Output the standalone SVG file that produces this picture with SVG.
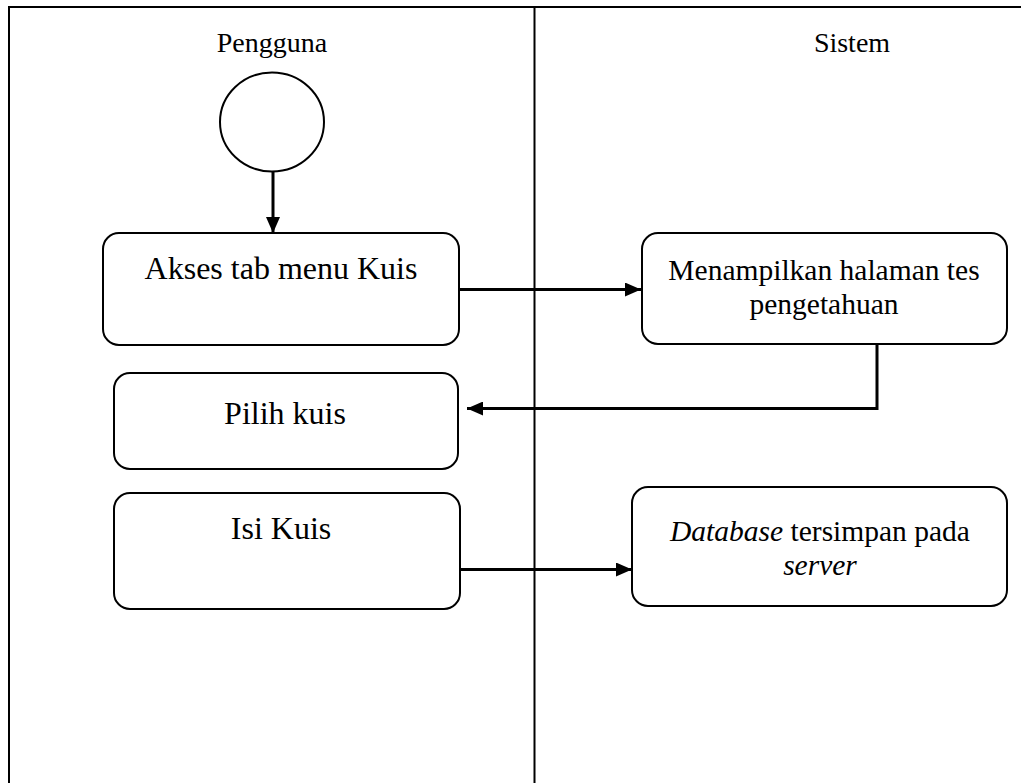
<svg xmlns="http://www.w3.org/2000/svg" width="1021" height="783" viewBox="0 0 1021 783">
  <style>
    .lane { stroke: #000; stroke-width: 2; fill: none; }
    .node { fill: #fff; stroke: #000; stroke-width: 2; }
    .flow { stroke: #000; stroke-width: 3; fill: none; }
    .lbl { font-family: 'Liberation Serif', 'Times New Roman', serif; fill: #000; text-anchor: middle; }
    .title { font-size: 28px; }
    .big { font-size: 32px; }
    .small { font-size: 29.5px; }
  </style>
  <defs>
    <marker id="arrow" viewBox="0 0 16 14" refX="16" refY="7" markerWidth="16" markerHeight="14" markerUnits="userSpaceOnUse" orient="auto">
      <path d="M0,0 L16,7 L0,14 Z" fill="#000"/>
    </marker>
  </defs>
  <rect width="1021" height="783" fill="#fff"/>

  <!-- swimlanes -->
  <g id="lanes">
    <path class="lane" d="M9,783 V7 H1021"/>
    <path class="lane" d="M534.5,7 V783"/>
    <text class="lbl title" x="272" y="52">Pengguna</text>
    <text class="lbl title" x="852" y="52">Sistem</text>
  </g>

  <!-- connectors -->
  <g id="connectors">
    <path class="flow" d="M273,171 V233" marker-end="url(#arrow)"/>
    <path class="flow" d="M459,289.5 H641" marker-end="url(#arrow)"/>
    <path class="flow" d="M877,344 V408.5 H467" marker-end="url(#arrow)"/>
    <path class="flow" d="M460,569.5 H632" marker-end="url(#arrow)"/>
  </g>

  <g id="start">
    <ellipse class="node" cx="272" cy="122" rx="52" ry="49.5"/>
  </g>

  <g id="akses">
    <rect class="node" x="103" y="233" width="356" height="112" rx="16"/>
    <text class="lbl big" x="281" y="279">Akses tab menu Kuis</text>
  </g>

  <g id="menampilkan">
    <rect class="node" x="642" y="233" width="365" height="111" rx="16"/>
    <text class="lbl small" x="824" y="280">Menampilkan halaman tes</text>
    <text class="lbl small" x="824" y="314">pengetahuan</text>
  </g>

  <g id="pilih">
    <rect class="node" x="114" y="373" width="344" height="96" rx="16"/>
    <text class="lbl big" x="285" y="424">Pilih kuis</text>
  </g>

  <g id="isi">
    <rect class="node" x="114" y="493" width="346" height="116" rx="16"/>
    <text class="lbl big" x="281" y="539">Isi Kuis</text>
  </g>

  <g id="database">
    <rect class="node" x="632" y="487" width="375" height="119" rx="16"/>
    <text class="lbl small" x="820" y="541"><tspan font-style="italic">Database</tspan> tersimpan pada</text>
    <text class="lbl small" x="820" y="575" font-style="italic">server</text>
  </g>
</svg>
